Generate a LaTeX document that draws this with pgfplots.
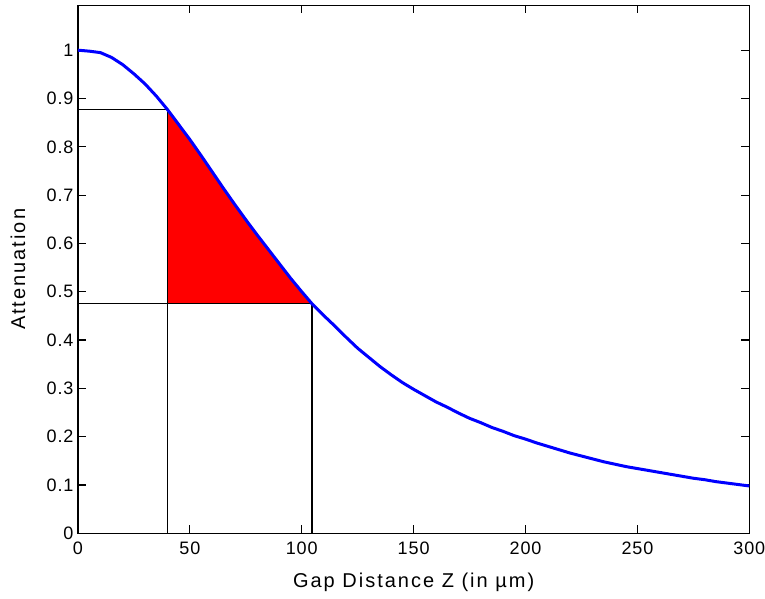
\documentclass[border=0pt]{standalone}
\usepackage{pgfplots}
\pgfplotsset{compat=1.18}
\usepackage{pgfplotstable}
\usepackage{fontspec}
\setmainfont{Liberation Sans}
\newfontfamily\lblfont[LetterSpace=10]{Liberation Sans}
\newfontfamily\tickfont[LetterSpace=5]{Liberation Sans}

\pgfplotstableread{
z a
0 1.000
5 0.998
10 0.995
15 0.985
20 0.970
25 0.951
30 0.930
35 0.905
40 0.877
45 0.846
50 0.815
55 0.782
60 0.748
65 0.714
70 0.681
75 0.649
80 0.618
85 0.588
90 0.558
95 0.528
100 0.500
104.6 0.475
110 0.450
115 0.428
120 0.405
125 0.383
130 0.364
135 0.345
140 0.328
145 0.312
150 0.298
155 0.285
160 0.272
165 0.261
170 0.249
175 0.238
180 0.229
185 0.219
190 0.211
195 0.202
200 0.195
205 0.187
210 0.180
215 0.173
220 0.166
225 0.160
230 0.154
235 0.148
240 0.143
245 0.138
250 0.134
255 0.130
260 0.126
265 0.122
270 0.118
275 0.114
280 0.111
285 0.107
290 0.104
295 0.101
300 0.098
}\curvedata

\pgfplotstableread{
z a
40 0.877
45 0.846
50 0.815
55 0.782
60 0.748
65 0.714
70 0.681
75 0.649
80 0.618
85 0.588
90 0.558
95 0.528
100 0.500
104.6 0.475
40 0.475
40 0.877
}\filldata

\begin{document}
\begin{tikzpicture}
\begin{axis}[
  scale only axis,
  width=671.3pt, height=527.8pt,
  xmin=0, xmax=300, ymin=0, ymax=1.0925,
  xtick={0,50,...,300},
  ytick={0,0.1,0.2,0.3,0.4,0.5,0.6,0.7,0.8,0.9,1},
  yticklabels={0,0.1,0.2,0.3,0.4,0.5,0.6,0.7,0.8,0.9,1},
  /pgf/number format/assume math mode=true,
  tick align=inside,
  major tick length=8pt,
  tick style={black, line width=1.2pt},
  axis line style={black, line width=1.2pt},
  tick label style={font=\tickfont\fontsize{18}{18}\selectfont},
  xticklabel style={yshift=-5pt},
  yticklabel style={xshift=-1pt},
  xlabel={Gap Distance Z (in µm)},
  ylabel={Attenuation},
  label style={font=\lblfont\fontsize{20}{20}\selectfont},
  xlabel style={at={(axis description cs:0.5,-0.0923)}, anchor=center},
  ylabel style={at={(axis description cs:-0.0894,0.5)}, anchor=center},
]
\addplot[fill=red, draw=none] table[x=z, y=a] {\filldata};
\addplot[black, line width=1.3pt] coordinates {(0,0.877) (40,0.877) (40,0)};
\addplot[black, line width=1.3pt] coordinates {(0,0.475) (104.6,0.475) (104.6,0)};
\addplot[blue, line width=3pt, line join=round] table[x=z, y=a] {\curvedata};
\end{axis}
\pgfresetboundingbox
\path ([shift={(-78pt,-64.7pt)}]current axis.south west) rectangle ([shift={(15.7pt,5.5pt)}]current axis.north east);
\end{tikzpicture}
\end{document}
